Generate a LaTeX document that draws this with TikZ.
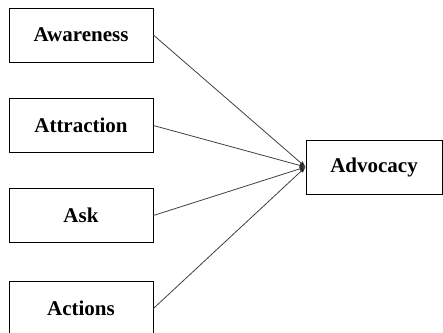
\documentclass[tikz,border=0pt]{standalone}
\usepackage{fontspec}
\setmainfont{Liberation Serif}
\usetikzlibrary{arrows.meta}

\tikzset{
    factor/.style = {draw = black, line width = 0.8pt, minimum width = 144pt, minimum height = 54pt,
                     inner sep = 0pt, font = \fontsize{21}{24}\selectfont\bfseries},
    link/.style   = {draw = black!75, line width = 0.8pt, -{Latex[length = 6pt, width = 5pt, fill = black]}}
}

\begin{document}
\begin{tikzpicture}[x = 1pt, y = -1pt]
        \useasboundingbox (0,0) rectangle (443,332);

        % the four factors
        \node[factor] (awareness)  at ( 81, 35.0) {Awareness};
        \node[factor] (attraction) at ( 81,125.5) {Attraction};
        \node[factor] (ask)        at ( 81,215.5) {Ask};
        \node[factor] (actions)    at ( 81,308.5) {Actions};

        % outcome
        \node[factor, minimum width = 136pt] (advocacy) at (374,167) {Advocacy};

        % links
        \draw[link] (awareness.east)  -- (advocacy.west);
        \draw[link] (attraction.east) -- (advocacy.west);
        \draw[link] (ask.east)        -- (advocacy.west);
        \draw[link] (actions.east)    -- (advocacy.west);
    \end{tikzpicture}
\end{document}
